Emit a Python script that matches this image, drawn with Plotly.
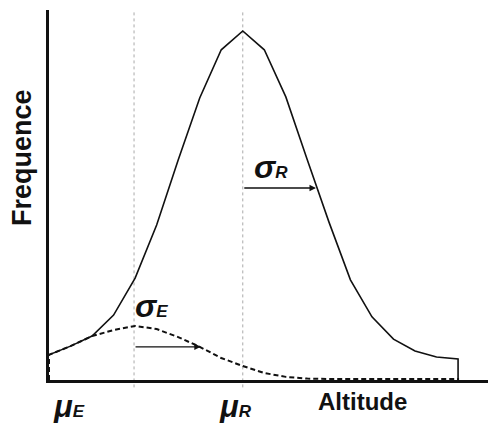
import plotly.graph_objects as go

# Altitude bins (category index) and frequencies
bins = list(range(20))
freq_R = [7.2, 9.7, 12.6, 18.6, 29.2, 44.4, 63.0, 80.8, 94.6, 100.0,
          94.6, 81.1, 63.0, 45.3, 28.7, 18.1, 11.7, 8.3, 6.6, 6.0]
freq_E = [7.2, 9.7, 12.6, 14.3, 15.5, 14.6, 12.3, 9.5, 6.3, 4.0,
          2.0, 0.9, 0.4, 0.3, 0.3, 0.3, 0.3, 0.3, 0.3, 0.3]
mu_E, mu_R = 3.95, 9
sigma_E, sigma_R = 3.1, 3.4
arrow_E_level, arrow_R_level = 9.5, 55.0

OFF = 8  # page body margin
W, H = 496 - OFF, 423 - OFF
L, T = 49 - OFF, 10 - OFF
B = 43
R = 0
pw, ph = W - L - R, H - T - B
step = 21.53
xmax = pw / step
ymax = 106.0

def px(x):
    return (x - 49) / pw

def py(y):
    return (380 - y) / ph

fig = go.Figure()

# closed outlines: drop to zero at the ends
xR = bins + [bins[-1]]
yR = freq_R + [0]
xE = [bins[0]] + bins + [bins[-1]]
yE = [0] + freq_E + [0]

fig.add_trace(go.Scatter(x=xR, y=yR, mode="lines",
                         line=dict(color="#111111", width=1.6),
                         hoverinfo="skip", showlegend=False, cliponaxis=False))
fig.add_trace(go.Scatter(x=xE, y=yE, mode="lines",
                         line=dict(color="#111111", width=2, dash="5px,3px"),
                         hoverinfo="skip", showlegend=False, cliponaxis=False))

for m in (mu_E, mu_R):
    fig.add_shape(type="line", xref="x", yref="paper", x0=m, x1=m, y0=-0.02, y1=1,
                  line=dict(color="#aaaaaa", width=1, dash="dot"), layer="below")

font = "Arial, Liberation Sans, sans-serif"
anns = []
# sigma arrows
anns.append(dict(x=mu_R + sigma_R, y=arrow_R_level, ax=mu_R, ay=arrow_R_level,
                 xref="x", yref="y", axref="x", ayref="y", text="", showarrow=True,
                 arrowhead=2, arrowsize=1, arrowwidth=1.3, arrowcolor="#111111"))
anns.append(dict(x=mu_E + sigma_E, y=arrow_E_level, ax=mu_E, ay=arrow_E_level,
                 xref="x", yref="y", axref="x", ayref="y", text="", showarrow=True,
                 arrowhead=2, arrowsize=1, arrowwidth=1.3, arrowcolor="#111111"))

def lab(text, x, y, size, angle=0):
    return dict(text=text, x=px(x), y=py(y), xref="paper", yref="paper",
                showarrow=False, textangle=angle, xanchor="center", yanchor="middle",
                font=dict(family=font, size=size, color="#111111"))

anns.append(lab("<b><i>σ<span style='font-size:17px'>R</span></i></b>", 271, 167, 32))
anns.append(lab("<b><i>σ<span style='font-size:17px'>E</span></i></b>", 151, 306, 32))
anns.append(lab("<b><i>μ<span style='font-size:17px'>E</span></i></b>", 69, 407, 31))
anns.append(lab("<b><i>μ<span style='font-size:17px'>R</span></i></b>", 235, 407, 31))
anns.append(lab("<b>Altitude</b>", 362, 401, 24))
anns.append(lab("<b>Frequence</b>", 22, 158, 27, angle=-90))

fig.update_layout(
    width=W, height=H,
    margin=dict(l=L, r=R, t=T, b=B),
    paper_bgcolor="white", plot_bgcolor="white",
    xaxis=dict(range=[0, xmax], showgrid=False, zeroline=False, showticklabels=False,
               ticks="", showline=True, linecolor="#111111", linewidth=2.5),
    yaxis=dict(range=[0, ymax], showgrid=False, zeroline=False, showticklabels=False,
               ticks="", showline=True, linecolor="#111111", linewidth=2.5),
    annotations=anns,
)
fig.write_html("out.html")
